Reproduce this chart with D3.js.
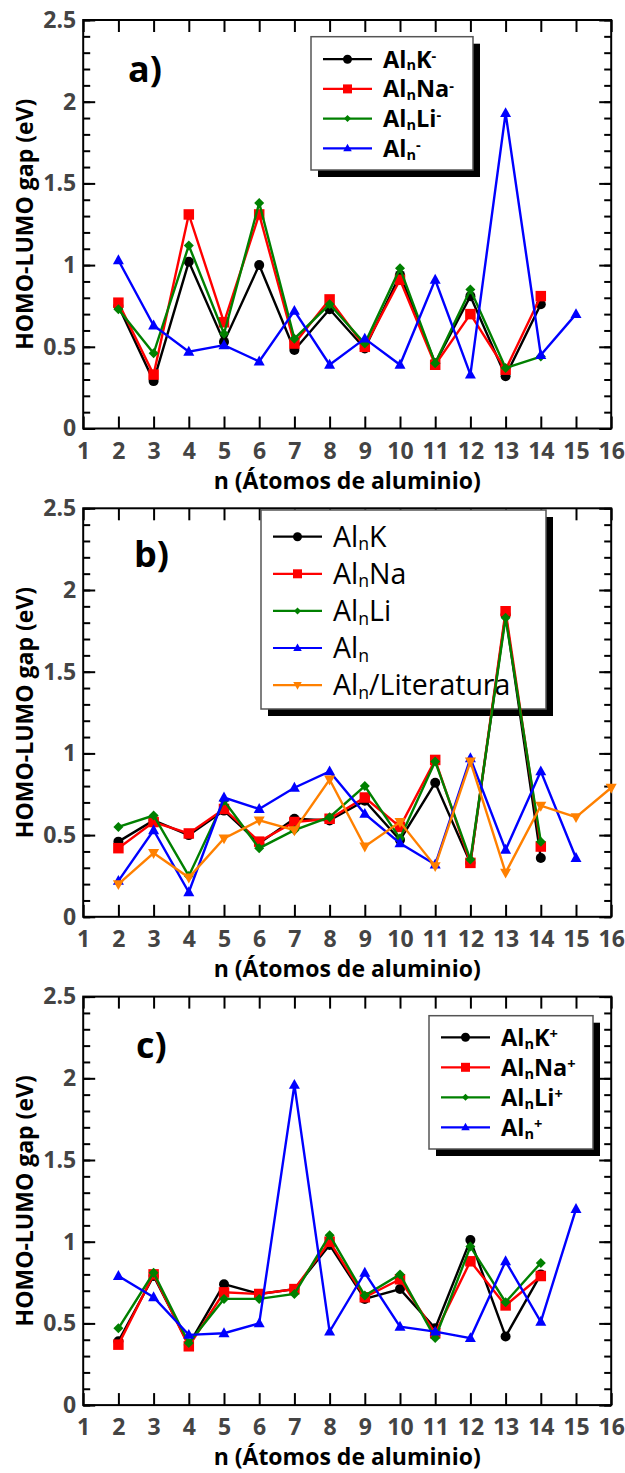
<!DOCTYPE html>
<html>
<head>
<meta charset="utf-8">
<script src="https://cdn.jsdelivr.net/npm/d3@7"></script>
<style>
  body { margin: 0; background: #fff; }
  svg { display: block; }
</style>
</head>
<body>
<div id="chart"></div>
<script>
// --- datos: numero de atomos n ---
var nAlloy = [2, 3, 4, 5, 6, 7, 8, 9, 10, 11, 12, 13, 14];
var nPure = [2, 3, 4, 5, 6, 7, 8, 9, 10, 11, 12, 13, 14, 15];
var nLit = [2, 3, 4, 5, 6, 7, 8, 9, 10, 11, 12, 13, 14, 15, 16];

// a) aniones
var gapKMinus  = [0.75, 0.29, 1.02, 0.53, 1.00, 0.48, 0.73, 0.49, 0.94, 0.40, 0.81, 0.32, 0.76];
var gapNaMinus = [0.77, 0.33, 1.31, 0.65, 1.31, 0.52, 0.79, 0.50, 0.91, 0.39, 0.70, 0.36, 0.81];
var gapLiMinus = [0.73, 0.46, 1.12, 0.58, 1.38, 0.55, 0.76, 0.52, 0.98, 0.40, 0.85, 0.37, 0.44];
var gapAlMinus = [1.03, 0.63, 0.47, 0.51, 0.41, 0.72, 0.39, 0.55, 0.39, 0.91, 0.33, 1.93, 0.45, 0.70];

// b) neutros
var gapK   = [0.46, 0.59, 0.50, 0.65, 0.45, 0.60, 0.59, 0.71, 0.47, 0.82, 0.33, 1.85, 0.36];
var gapNa  = [0.42, 0.58, 0.51, 0.66, 0.46, 0.58, 0.60, 0.73, 0.55, 0.96, 0.33, 1.87, 0.43];
var gapLi  = [0.55, 0.62, 0.25, 0.71, 0.42, 0.53, 0.61, 0.80, 0.48, 0.95, 0.35, 1.83, 0.46];
var gapAl  = [0.22, 0.53, 0.15, 0.73, 0.66, 0.79, 0.89, 0.63, 0.45, 0.32, 0.97, 0.41, 0.89, 0.36];
var gapLit = [0.20, 0.39, 0.24, 0.48, 0.59, 0.53, 0.84, 0.43, 0.58, 0.31, 0.95, 0.27, 0.68, 0.61, 0.79];

// c) cationes
var gapKPlus  = [0.39, 0.79, 0.37, 0.74, 0.68, 0.71, 0.98, 0.65, 0.71, 0.47, 1.01, 0.42, 0.80];
var gapNaPlus = [0.37, 0.80, 0.36, 0.69, 0.68, 0.71, 1.00, 0.66, 0.77, 0.44, 0.88, 0.61, 0.79];
var gapLiPlus = [0.47, 0.81, 0.38, 0.65, 0.65, 0.68, 1.04, 0.67, 0.80, 0.41, 0.97, 0.63, 0.87];
var gapAlPlus = [0.79, 0.66, 0.43, 0.44, 0.50, 1.96, 0.45, 0.81, 0.48, 0.45, 0.41, 0.88, 0.51, 1.20];

// ticks
var xTicks = d3.range(1, 17);
var yMajor = [0, 0.5, 1, 1.5, 2, 2.5];
var yMinor = d3.range(0, 2.51, 0.1).map(function (d) { return +d.toFixed(1); });

var xTitle = "n (Átomos de aluminio)";
var yTitle = "HOMO-LUMO gap (eV)";

// --- layout ---
var width = 625, height = 1473;
var plotLeft = 83.2, plotRight = 611.2, panelH = 408.5;
var panelTops = [20, 508.3, 996.6];
var font = "'Open Sans', Lato, sans-serif";

var svg = d3.select("#chart").append("svg")
    .attr("width", width)
    .attr("height", height);

var xScale = d3.scaleLinear().domain([1, 16]).range([plotLeft, plotRight]);

// marker paths centered at 0,0
function markerPath(type, s) {
    if (type == "circle") return d3.symbol(d3.symbolCircle, Math.PI * s * s / 4)();
    if (type == "square") return "M" + (-s / 2) + "," + (-s / 2) + "h" + s + "v" + s + "h" + (-s) + "Z";
    if (type == "diamond") return "M0," + (-s / 2) + "L" + (s / 2) + ",0L0," + (s / 2) + "L" + (-s / 2) + ",0Z";
    var h = s * 0.9;
    if (type == "triangle") return "M0," + (-h * 0.6) + "L" + (s / 2) + "," + (h * 0.4) + "L" + (-s / 2) + "," + (h * 0.4) + "Z";
    if (type == "triangleDown") return "M0," + (h * 0.6) + "L" + (s / 2) + "," + (-h * 0.4) + "L" + (-s / 2) + "," + (-h * 0.4) + "Z";
}
var markerSize = { circle: 10, square: 10.5, diamond: 10, triangle: 11, triangleDown: 11 };
var legendMarkerSize = { circle: 9, square: 9, diamond: 7, triangle: 8.5, triangleDown: 8.5 };

// label text: "_x" subscript, "^x" superscript
function writeLabel(textSel, label, fs) {
    var parts = label.match(/_[^_^]|\^[^_^]|[^_^]+/g);
    var shift = 0;
    parts.forEach(function (p) {
        if (p[0] == "_") {
            textSel.append("tspan").attr("font-size", fs * 0.62).attr("dy", fs * 0.12 - shift).text(p[1]);
            shift = fs * 0.12;
        } else if (p[0] == "^") {
            textSel.append("tspan").attr("font-size", fs * 0.62).attr("dy", -fs * 0.28 - shift).text(p[1]);
            shift = -fs * 0.28;
        } else {
            textSel.append("tspan").attr("dy", -shift).text(p);
            shift = 0;
        }
    });
}

var panels = [
    {
        letter: "a)", letterX: 128, letterY: 82,
        legend: { x: 311, y: 36.7, w: 162, h: 133.3, row0: 22.5, step: 29.7, fs: 23.5, weight: "bold" },
        series: [
            { x: nAlloy, y: gapKMinus, color: "#000000", marker: "circle", label: "Al_nK^-" },
            { x: nAlloy, y: gapNaMinus, color: "#ff0000", marker: "square", label: "Al_nNa^-" },
            { x: nAlloy, y: gapLiMinus, color: "#008000", marker: "diamond", label: "Al_nLi^-" },
            { x: nPure, y: gapAlMinus, color: "#0000ff", marker: "triangle", label: "Al_n^-" }
        ]
    },
    {
        letter: "b)", letterX: 134, letterY: 567,
        legend: { x: 261, y: 510, w: 285, h: 199, row0: 26.7, step: 37.1, fs: 28.5, weight: "normal" },
        series: [
            { x: nAlloy, y: gapK, color: "#000000", marker: "circle", label: "Al_nK" },
            { x: nAlloy, y: gapNa, color: "#ff0000", marker: "square", label: "Al_nNa" },
            { x: nAlloy, y: gapLi, color: "#008000", marker: "diamond", label: "Al_nLi" },
            { x: nPure, y: gapAl, color: "#0000ff", marker: "triangle", label: "Al_n" },
            { x: nLit, y: gapLit, color: "#ff8000", marker: "triangleDown", label: "Al_n/Literatura" }
        ]
    },
    {
        letter: "c)", letterX: 136, letterY: 1058,
        legend: { x: 429, y: 1015.7, w: 164, h: 133.3, row0: 21.6, step: 30, fs: 23.5, weight: "bold" },
        series: [
            { x: nAlloy, y: gapKPlus, color: "#000000", marker: "circle", label: "Al_nK^+" },
            { x: nAlloy, y: gapNaPlus, color: "#ff0000", marker: "square", label: "Al_nNa^+" },
            { x: nAlloy, y: gapLiPlus, color: "#008000", marker: "diamond", label: "Al_nLi^+" },
            { x: nPure, y: gapAlPlus, color: "#0000ff", marker: "triangle", label: "Al_n^+" }
        ]
    }
];

panels.forEach(function (p, i) {
    var top = panelTops[i], bottom = top + panelH;
    var yScale = d3.scaleLinear().domain([0, 2.5]).range([bottom, top]);
    var g = svg.append("g");

    // ticks (pointing inward), all four sides
    g.append("g").attr("transform", "translate(0," + bottom + ")")
        .call(d3.axisBottom(xScale).tickValues(xTicks).tickSizeInner(-12).tickSizeOuter(0).tickPadding(14));
    g.append("g").attr("transform", "translate(0," + top + ")")
        .call(d3.axisTop(xScale).tickValues(xTicks).tickSizeInner(-12).tickSizeOuter(0).tickFormat(""));
    g.append("g").attr("transform", "translate(" + plotLeft + ",0)")
        .call(d3.axisLeft(yScale).tickValues(yMajor).tickSizeInner(-12).tickSizeOuter(0).tickPadding(7)
            .tickFormat(d3.format("~g")));
    g.append("g").attr("transform", "translate(" + plotLeft + ",0)")
        .call(d3.axisLeft(yScale).tickValues(yMinor).tickSizeInner(-7).tickSizeOuter(0).tickFormat(""));
    g.append("g").attr("transform", "translate(" + plotRight + ",0)")
        .call(d3.axisRight(yScale).tickValues(yMajor).tickSizeInner(-12).tickSizeOuter(0).tickFormat(""));
    g.append("g").attr("transform", "translate(" + plotRight + ",0)")
        .call(d3.axisRight(yScale).tickValues(yMinor).tickSizeInner(-7).tickSizeOuter(0).tickFormat(""));

    g.selectAll(".domain").remove();
    g.selectAll(".tick line").attr("stroke", "#000").attr("stroke-width", 2);
    g.selectAll(".tick text")
        .attr("fill", "#444")
        .style("font-family", font)
        .style("font-weight", "bold")
        .style("font-size", "23px");

    // frame
    g.append("rect")
        .attr("x", plotLeft).attr("y", top)
        .attr("width", plotRight - plotLeft).attr("height", panelH)
        .attr("fill", "none").attr("stroke", "#000").attr("stroke-width", 2);

    // panel letter
    g.append("text")
        .attr("x", p.letterX).attr("y", p.letterY)
        .style("font-family", font).style("font-weight", "bold").style("font-size", "36px")
        .text(p.letter);

    // legend with shadow
    var L = p.legend;
    var lg = g.append("g").attr("transform", "translate(" + L.x + "," + L.y + ")");
    lg.append("rect").attr("x", 7).attr("y", 7).attr("width", L.w).attr("height", L.h).attr("fill", "#000");
    lg.append("rect").attr("width", L.w).attr("height", L.h)
        .attr("fill", "#fff").attr("stroke", "#555").attr("stroke-width", 1.5);
    p.series.forEach(function (s, k) {
        var ry = L.row0 + k * L.step;
        lg.append("line").attr("x1", 12).attr("x2", 61).attr("y1", ry).attr("y2", ry)
            .attr("stroke", s.color).attr("stroke-width", 2.2);
        lg.append("path").attr("d", markerPath(s.marker, legendMarkerSize[s.marker]))
            .attr("transform", "translate(36.5," + ry + ")").attr("fill", s.color);
        var t = lg.append("text").attr("x", 72).attr("y", ry + L.fs * 0.36)
            .style("font-family", font).style("font-weight", L.weight).style("font-size", L.fs + "px");
        writeLabel(t, s.label, L.fs);
    });

    // series (drawn over the legend, as in the original)
    var line = d3.line()
        .x(function (d) { return xScale(d[0]); })
        .y(function (d) { return yScale(d[1]); });

    p.series.forEach(function (s) {
        var pts = s.x.map(function (n, k) { return [n, s.y[k]]; });
        g.append("path")
            .attr("d", line(pts))
            .attr("fill", "none")
            .attr("stroke", s.color)
            .attr("stroke-width", 2.4);
        g.selectAll(null).data(pts).enter().append("path")
            .attr("d", markerPath(s.marker, markerSize[s.marker]))
            .attr("transform", function (d) { return "translate(" + xScale(d[0]) + "," + yScale(d[1]) + ")"; })
            .attr("fill", s.color);
    });

    // axis titles
    g.append("text")
        .attr("x", (plotLeft + plotRight) / 2).attr("y", bottom + 60)
        .attr("text-anchor", "middle")
        .style("font-family", font).style("font-weight", "bold").style("font-size", "23px")
        .text(xTitle);
    g.append("text")
        .attr("transform", "translate(33," + (top + panelH / 2) + ") rotate(-90)")
        .attr("text-anchor", "middle")
        .style("font-family", font).style("font-weight", "bold").style("font-size", "23px")
        .text(yTitle);
});
</script>
</body>
</html>
